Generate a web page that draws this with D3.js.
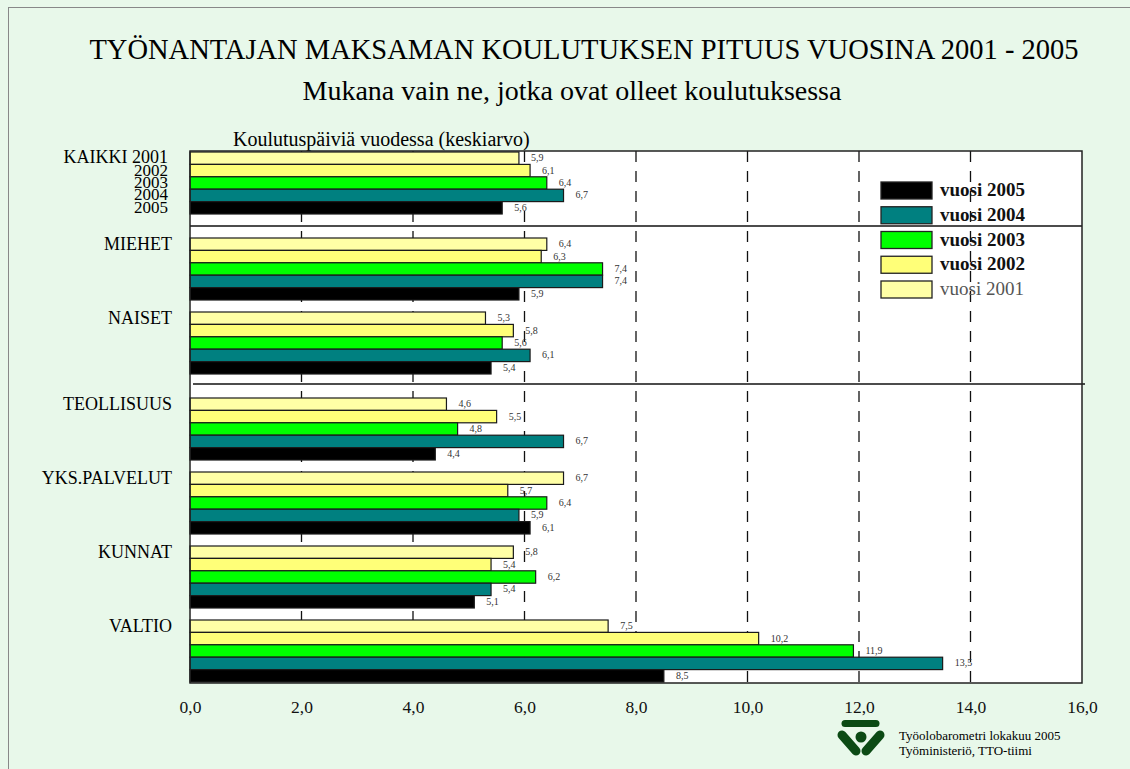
<!DOCTYPE html>
<html>
<head>
<meta charset="utf-8">
<script src="https://cdn.jsdelivr.net/npm/d3@7"></script>
<style>
  body { margin: 0; background: #e8f8ea; }
  text { font-family: "Liberation Serif", "Times New Roman", serif; }
</style>
</head>
<body>
<div id="chart"></div>
<script>
// data
let categories = ["KAIKKI", "MIEHET", "NAISET", "TEOLLISUUS", "YKS.PALVELUT", "KUNNAT", "VALTIO"];
let sectionOf = [0, 1, 1, 2, 2, 2, 2];
let years = ["2001", "2002", "2003", "2004", "2005"];
let v2001 = [5.9, 6.4, 5.3, 4.6, 6.7, 5.8, 7.5];
let v2002 = [6.1, 6.3, 5.8, 5.5, 5.7, 5.4, 10.2];
let v2003 = [6.4, 7.4, 5.6, 4.8, 6.4, 6.2, 11.9];
let v2004 = [6.7, 7.4, 6.1, 6.7, 5.9, 5.4, 13.5];
let v2005 = [5.6, 5.9, 5.4, 4.4, 6.1, 5.1, 8.5];
let xTicks = [0, 2, 4, 6, 8, 10, 12, 14, 16];
let legendYears = ["2005", "2004", "2003", "2002", "2001"];

let series = { "2001": v2001, "2002": v2002, "2003": v2003, "2004": v2004, "2005": v2005 };
let colors = { "2001": "#ffffa6", "2002": "#ffff78", "2003": "#00ff00", "2004": "#008080", "2005": "#000000" };

let svgWidth = 1130, svgHeight = 769;
let plot = { left: 190, right: 1082, top: 151, bottom: 683 };
let sectionGap = 12;

let svg = d3.select("#chart").append("svg")
  .attr("width", svgWidth)
  .attr("height", svgHeight);

// outer frame
svg.append("rect")
  .attr("x", 8.5).attr("y", 7.5)
  .attr("width", svgWidth).attr("height", svgHeight)
  .attr("fill", "#e8f8ea")
  .attr("stroke", "#888");

// titles
svg.append("text")
  .attr("x", 584).attr("y", 59)
  .attr("text-anchor", "middle")
  .attr("font-size", 28.5)
  .text("TYÖNANTAJAN MAKSAMAN KOULUTUKSEN PITUUS VUOSINA 2001 - 2005");

svg.append("text")
  .attr("x", 572).attr("y", 100)
  .attr("text-anchor", "middle")
  .attr("font-size", 28)
  .text("Mukana vain ne, jotka ovat olleet koulutuksessa");

svg.append("text")
  .attr("x", 233).attr("y", 146)
  .attr("font-size", 20)
  .text("Koulutuspäiviä vuodessa (keskiarvo)");

// scales
let x = d3.scaleLinear().domain([0, 16]).range([plot.left, plot.right]);

let y0 = d3.scaleBand()
  .domain(categories)
  .range([plot.top + 1, plot.bottom - 1 - 2 * sectionGap])
  .paddingInner(12 / 74)
  .paddingOuter(0);

let y1 = d3.scaleBand().domain(years).range([0, y0.bandwidth()]);

function groupTop(c) {
  return y0(c) + sectionOf[categories.indexOf(c)] * sectionGap;
}

// plot background
svg.append("rect")
  .attr("x", plot.left).attr("y", plot.top)
  .attr("width", plot.right - plot.left).attr("height", plot.bottom - plot.top)
  .attr("fill", "#fff");

// dashed gridlines
svg.append("g").selectAll("line")
  .data(xTicks.filter(d => d > 0 && d < 16))
  .enter().append("line")
  .attr("x1", d => x(d)).attr("x2", d => x(d))
  .attr("y1", plot.top).attr("y2", plot.bottom)
  .attr("stroke", "#111")
  .attr("stroke-width", 1.3)
  .attr("stroke-dasharray", "11,9");

// section separators
let sepY1 = (groupTop("KAIKKI") + y0.bandwidth() + groupTop("MIEHET")) / 2;
let sepY2 = (groupTop("NAISET") + y0.bandwidth() + groupTop("TEOLLISUUS")) / 2 - 2;
svg.append("line")
  .attr("x1", plot.left).attr("x2", plot.right)
  .attr("y1", sepY1).attr("y2", sepY1)
  .attr("stroke", "#111").attr("stroke-width", 1.3);
svg.append("line")
  .attr("x1", plot.left + 3).attr("x2", plot.right + 3)
  .attr("y1", sepY2).attr("y2", sepY2)
  .attr("stroke", "#111").attr("stroke-width", 1.3);

// flatten
let barData = [];
categories.forEach(function(c, i) {
  years.forEach(function(yr) {
    barData.push({ cat: c, year: yr, value: series[yr][i] });
  });
});

let bars = svg.append("g");
bars.selectAll("rect")
  .data(barData)
  .enter().append("rect")
  .attr("x", x(0))
  .attr("y", d => groupTop(d.cat) + y1(d.year))
  .attr("width", d => x(d.value) - x(0))
  .attr("height", y1.bandwidth())
  .attr("fill", d => colors[d.year])
  .attr("stroke", "#1a1a1a")
  .attr("stroke-width", 1.2);

// value labels
let fmt = d => d3.format(".1f")(d).replace(".", ",");
bars.selectAll("text")
  .data(barData)
  .enter().append("text")
  .attr("x", d => x(d.value) + 12)
  .attr("y", d => groupTop(d.cat) + y1(d.year) + y1.bandwidth() / 2 + 3)
  .attr("font-size", 10)
  .attr("fill", "#333")
  .text(d => fmt(d.value));

// plot frame
svg.append("rect")
  .attr("x", plot.left).attr("y", plot.top)
  .attr("width", plot.right - plot.left).attr("height", plot.bottom - plot.top)
  .attr("fill", "none")
  .attr("stroke", "#222")
  .attr("stroke-width", 1.5);

// x axis labels
let xAxis = d3.axisBottom(x)
  .tickValues(xTicks)
  .tickSize(0)
  .tickPadding(18)
  .tickFormat(fmt);
let gx = svg.append("g")
  .attr("transform", `translate(0, ${plot.bottom})`)
  .call(xAxis);
gx.select(".domain").remove();
gx.selectAll("text")
  .attr("font-family", "Liberation Serif, serif")
  .attr("font-size", 17.5)
  .attr("fill", "#111");

// category labels
categories.forEach(function(c) {
  if (c === "KAIKKI") {
    years.forEach(function(yr, j) {
      svg.append("text")
        .attr("x", 168)
        .attr("y", groupTop(c) + y1(yr) + y1.bandwidth() / 2 + 5)
        .attr("text-anchor", "end")
        .attr("font-size", j === 0 ? 18 : 17)
        .text(j === 0 ? "KAIKKI " + yr : yr);
    });
  } else {
    svg.append("text")
      .attr("x", 172)
      .attr("y", groupTop(c) + y1(years[0]) + y1.bandwidth() / 2 + 6)
      .attr("text-anchor", "end")
      .attr("font-size", 18)
      .text(c);
  }
});

// legend
let ly = d3.scalePoint().domain(legendYears).range([190, 289]);
let legend = svg.append("g");
legend.selectAll("rect")
  .data(legendYears)
  .enter().append("rect")
  .attr("x", 881).attr("y", d => ly(d) - 8)
  .attr("width", 51).attr("height", 17)
  .attr("fill", d => colors[d])
  .attr("stroke", "#222").attr("stroke-width", 1.3);
legend.selectAll("text")
  .data(legendYears)
  .enter().append("text")
  .attr("x", 940).attr("y", d => ly(d) + 6)
  .attr("font-size", 19)
  .attr("font-weight", d => d === "2001" ? "normal" : "bold")
  .attr("fill", d => d === "2001" ? "#555" : "#111")
  .text(d => "vuosi " + d);

// logo
let logo = svg.append("g").attr("fill", "#0b4a14").attr("stroke", "#0b4a14");
logo.append("line")
  .attr("x1", 845).attr("y1", 723.5).attr("x2", 876).attr("y2", 723.5)
  .attr("stroke-width", 7).attr("stroke-linecap", "round");
logo.append("circle").attr("cx", 861).attr("cy", 737).attr("r", 5.5).attr("stroke", "none");
logo.append("line")
  .attr("x1", 842).attr("y1", 735).attr("x2", 856).attr("y2", 751)
  .attr("stroke-width", 9).attr("stroke-linecap", "round");
logo.append("line")
  .attr("x1", 880).attr("y1", 735).attr("x2", 866).attr("y2", 751)
  .attr("stroke-width", 9).attr("stroke-linecap", "round");

svg.append("text")
  .attr("x", 899).attr("y", 740)
  .attr("font-size", 13)
  .text("Työolobarometri lokakuu 2005");
svg.append("text")
  .attr("x", 899).attr("y", 755)
  .attr("font-size", 13)
  .text("Työministeriö, TTO-tiimi");
</script>
</body>
</html>
